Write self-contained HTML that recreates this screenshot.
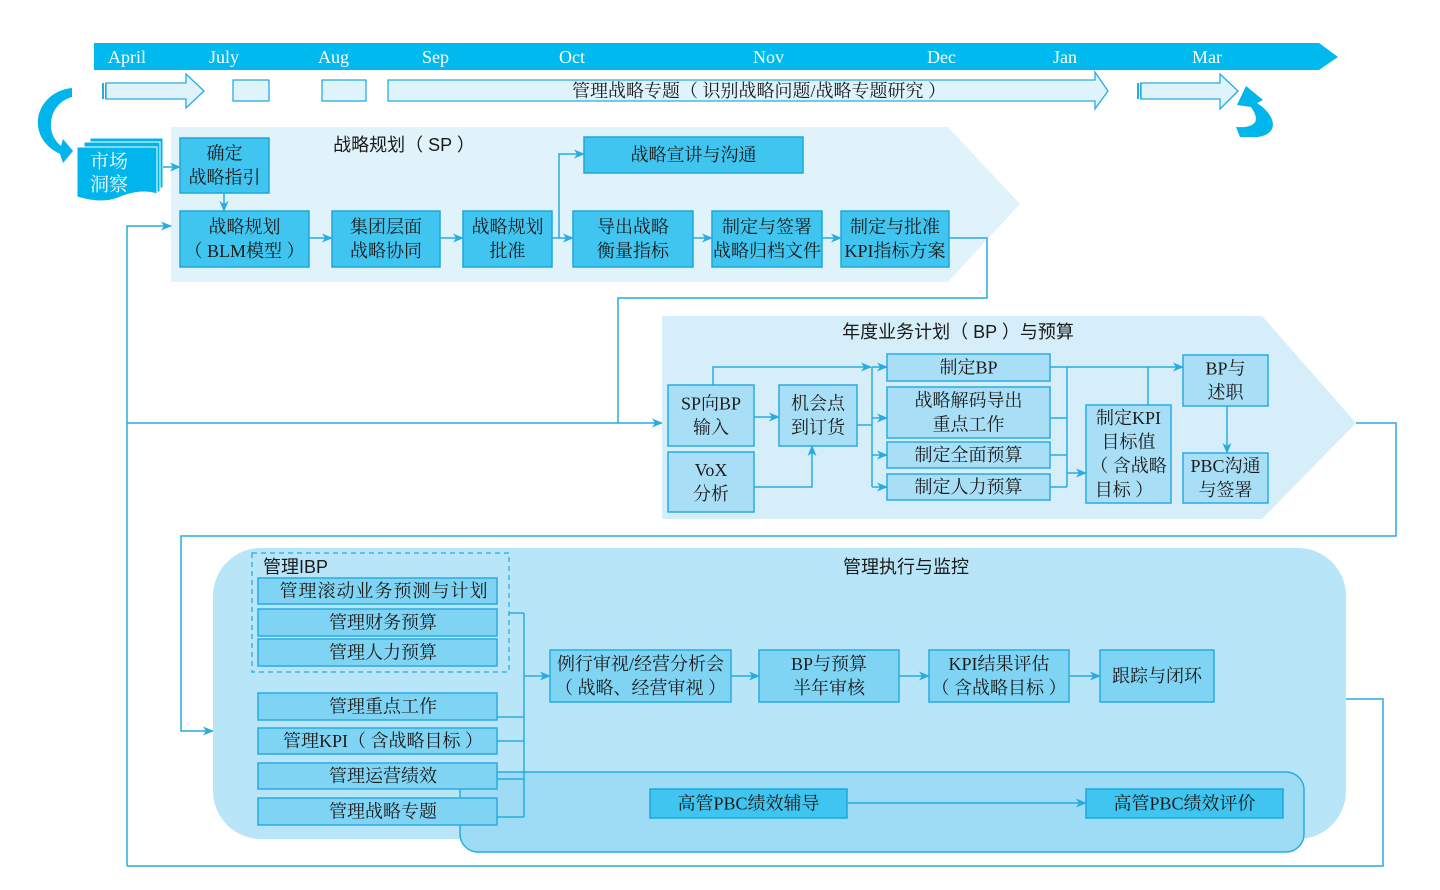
<!DOCTYPE html>
<html><head><meta charset="utf-8">
<style>
html,body{margin:0;padding:0;background:#fff;}
svg{display:block;}
.s{font-family:"Liberation Serif","Noto Serif CJK SC",serif;font-size:18px;fill:#1a1a1a;}
.h{font-family:"Liberation Sans","Noto Sans CJK SC",sans-serif;font-size:18px;fill:#1a1a1a;}
.m{font-family:"Liberation Serif","Noto Serif CJK SC",serif;font-size:18px;fill:#fff;}
.ln{fill:none;stroke:#29abe2;stroke-width:1.5;}
.b1{fill:#3fc5f0;stroke:#1ea6dc;stroke-width:1.5;}
.b2{fill:#a9dff6;stroke:#29abe2;stroke-width:1.5;}
.b3{fill:#7fd4f4;stroke:#29abe2;stroke-width:1.5;}
.ta{fill:#dff3fb;stroke:#29abe2;stroke-width:1.3;}
</style></head><body>
<svg width="1440" height="890" viewBox="0 0 1440 890" xmlns="http://www.w3.org/2000/svg">
<defs>
<marker id="a" markerWidth="11" markerHeight="9" refX="10" refY="4.5" orient="auto" markerUnits="userSpaceOnUse">
<path d="M0,0 L11,4.5 L0,9 L3,4.5 Z" fill="#29abe2"/>
</marker>
</defs>

<!-- Timeline -->
<polygon points="94,43 1319,43 1338,57 1319,70 94,70" fill="#00b9ef"/>
<g class="m" dominant-baseline="central">
<text x="108" y="57">April</text>
<text x="209" y="57">July</text>
<text x="318" y="57">Aug</text>
<text x="422" y="57">Sep</text>
<text x="559" y="57">Oct</text>
<text x="753" y="57">Nov</text>
<text x="927" y="57">Dec</text>
<text x="1053" y="57">Jan</text>
<text x="1192" y="57">Mar</text>
</g>

<!-- timeline arrows -->
<polygon class="ta" points="106,83 186,83 186,74 204,91 186,108 186,99 106,99"/>
<rect x="102" y="83" width="2" height="16" fill="#29abe2"/>
<rect x="105" y="83" width="1.5" height="16" fill="#29abe2"/>
<rect class="ta" x="233" y="80" width="36" height="21"/>
<rect class="ta" x="322" y="80" width="44" height="21"/>
<polygon class="ta" points="388,80 1095,80 1095,72 1108,91 1095,109 1095,101 388,101"/>
<text class="s" x="759" y="91" text-anchor="middle" dominant-baseline="central">管理战略专题（ 识别战略问题/战略专题研究 ）</text>
<polygon class="ta" points="1141,83 1220,83 1220,74 1238,91 1220,109 1220,99 1141,99"/>
<rect x="1137" y="83" width="2" height="16" fill="#29abe2"/>
<rect x="1140" y="83" width="1.5" height="16" fill="#29abe2"/>

<!-- curved arrows -->
<path d="M72,88 C50,90 36,108 38,126 C40,141 50,149 60,154 L63,163 L73,151 L63,139 L61,146 C55,141 50,133 51,123 C52,109 61,100 72,97 Z" fill="#00b4ec"/>
<path d="M1246,86 L1263,100 L1257,103 C1277,116 1279,134 1258,137 L1240,137 L1236,127 C1251,128 1263,124 1251,107 L1237,105 Z" fill="#00b4ec"/>

<!-- SP region -->
<polygon points="171,127 948,127 1020,204 948,282 171,282" fill="#e0f3fa"/>
<text class="h" x="404" y="145" text-anchor="middle" dominant-baseline="central">战略规划（ SP ）</text>

<!-- 市场洞察 -->
<path d="M90,138 H163 V188 H90 Z" fill="#00b4ec" stroke="#fff" stroke-width="1"/>
<path d="M84,142 H160 V192 H84 Z" fill="#00b4ec" stroke="#fff" stroke-width="1"/>
<path d="M77,147 H157 V194 C145,190 132,192 118,198 C105,203 90,201 77,197 Z" fill="#00b4ec" stroke="#fff" stroke-width="1"/>
<text class="m" x="109" y="162" text-anchor="middle" dominant-baseline="central" style="font-size:19px">市场</text>
<text class="m" x="109" y="185" text-anchor="middle" dominant-baseline="central" style="font-size:19px">洞察</text>

<!-- SP boxes -->
<rect class="b1" x="180" y="138" width="89" height="55"/>
<rect class="b1" x="180" y="211" width="129" height="56"/>
<rect class="b1" x="332" y="211" width="108" height="56"/>
<rect class="b1" x="463" y="211" width="89" height="56"/>
<rect class="b1" x="584" y="137" width="219" height="36"/>
<rect class="b1" x="573" y="211" width="120" height="56"/>
<rect class="b1" x="712" y="211" width="110" height="56"/>
<rect class="b1" x="841" y="211" width="108" height="56"/>
<g class="s" text-anchor="middle" dominant-baseline="central">
<text x="224.5" y="153.5">确定</text>
<text x="224.5" y="177.5">战略指引</text>
<text x="244.5" y="227">战略规划</text>
<text x="244.5" y="251">（ BLM模型 ）</text>
<text x="386" y="227">集团层面</text>
<text x="386" y="251">战略协同</text>
<text x="507.5" y="227">战略规划</text>
<text x="507.5" y="251">批准</text>
<text x="693.5" y="155">战略宣讲与沟通</text>
<text x="633" y="227">导出战略</text>
<text x="633" y="251">衡量指标</text>
<text x="767" y="227">制定与签署</text>
<text x="767" y="251">战略归档文件</text>
<text x="895" y="227">制定与批准</text>
<text x="895" y="251">KPI指标方案</text>
</g>

<!-- SP connectors -->
<line class="ln" x1="163" y1="167" x2="180" y2="167" marker-end="url(#a)"/>
<line class="ln" x1="224" y1="193" x2="224" y2="211" marker-end="url(#a)"/>
<line class="ln" x1="309" y1="238" x2="332" y2="238" marker-end="url(#a)"/>
<line class="ln" x1="440" y1="238" x2="463" y2="238" marker-end="url(#a)"/>
<line class="ln" x1="552" y1="238" x2="573" y2="238" marker-end="url(#a)"/>
<polyline class="ln" points="559,238 559,154 584,154" marker-end="url(#a)"/>
<line class="ln" x1="693" y1="238" x2="712" y2="238" marker-end="url(#a)"/>
<line class="ln" x1="822" y1="238" x2="841" y2="238" marker-end="url(#a)"/>
<polyline class="ln" points="949,238 987,238 987,298 618,298 618,423"/>
<polyline class="ln" points="127,866 127,226 171,226" marker-end="url(#a)"/>
<line class="ln" x1="127" y1="423" x2="662" y2="423" marker-end="url(#a)"/>

<!-- BP region -->
<polygon points="662,316 1262,316 1356,423 1262,519 662,519" fill="#d6eef9"/>
<text class="h" x="958" y="332" text-anchor="middle" dominant-baseline="central">年度业务计划（ BP ）与预算</text>

<rect class="b2" x="668" y="385" width="86" height="61"/>
<rect class="b2" x="668" y="452" width="86" height="60"/>
<rect class="b2" x="779" y="385" width="78" height="61"/>
<rect class="b2" x="887" y="354" width="163" height="27"/>
<rect class="b2" x="887" y="387" width="163" height="51"/>
<rect class="b2" x="887" y="442" width="163" height="26"/>
<rect class="b2" x="887" y="474" width="163" height="26"/>
<rect class="b2" x="1086" y="405" width="85" height="98"/>
<rect class="b2" x="1183" y="355" width="85" height="51"/>
<rect class="b2" x="1183" y="453" width="85" height="50"/>
<g class="s" text-anchor="middle" dominant-baseline="central">
<text x="711" y="403.5">SP向BP</text>
<text x="711" y="427.5">输入</text>
<text x="711" y="470">VoX</text>
<text x="711" y="494">分析</text>
<text x="818" y="403.5">机会点</text>
<text x="818" y="427.5">到订货</text>
<text x="968.5" y="367.5">制定BP</text>
<text x="968.5" y="400.5">战略解码导出</text>
<text x="968.5" y="424.5">重点工作</text>
<text x="968.5" y="455">制定全面预算</text>
<text x="968.5" y="487">制定人力预算</text>
<text x="1128.5" y="418">制定KPI</text>
<text x="1128.5" y="442">目标值</text>
<text x="1128.5" y="466">（ 含战略</text>
<text x="1124" y="490">目标 ）</text>
<text x="1225.5" y="368.5">BP与</text>
<text x="1225.5" y="392.5">述职</text>
<text x="1225.5" y="466">PBC沟通</text>
<text x="1225.5" y="490">与签署</text>
</g>

<!-- BP connectors -->
<line class="ln" x1="754" y1="417" x2="779" y2="417" marker-end="url(#a)"/>
<polyline class="ln" points="754,487 812,487 812,446" marker-end="url(#a)"/>
<polyline class="ln" points="713,385 713,367 871,367" marker-end="url(#a)"/>
<line class="ln" x1="857" y1="425" x2="872" y2="425"/>
<line class="ln" x1="872" y1="367" x2="872" y2="487"/>
<line class="ln" x1="872" y1="367" x2="887" y2="367" marker-end="url(#a)"/>
<line class="ln" x1="872" y1="418" x2="887" y2="418" marker-end="url(#a)"/>
<line class="ln" x1="872" y1="455" x2="887" y2="455" marker-end="url(#a)"/>
<line class="ln" x1="872" y1="487" x2="887" y2="487" marker-end="url(#a)"/>
<line class="ln" x1="1050" y1="367" x2="1183" y2="367" marker-end="url(#a)"/>
<line class="ln" x1="1050" y1="418" x2="1067" y2="418"/>
<line class="ln" x1="1050" y1="455" x2="1067" y2="455"/>
<line class="ln" x1="1050" y1="487" x2="1067" y2="487"/>
<line class="ln" x1="1067" y1="367" x2="1067" y2="487"/>
<line class="ln" x1="1067" y1="473" x2="1086" y2="473" marker-end="url(#a)"/>
<line class="ln" x1="1148" y1="405" x2="1148" y2="367"/>
<line class="ln" x1="1227" y1="406" x2="1227" y2="453" marker-end="url(#a)"/>
<polyline class="ln" points="1356,423 1396,423 1396,536 181,536 181,731 213,731" marker-end="url(#a)"/>

<!-- Bottom region -->
<rect x="213" y="548" width="1133" height="291" rx="48" ry="48" fill="#b9e5f8"/>
<rect x="460" y="772" width="844" height="80" rx="18" ry="18" fill="#9edcf5" stroke="#29abe2" stroke-width="1.5"/>
<text class="h" x="906" y="567" text-anchor="middle" dominant-baseline="central">管理执行与监控</text>

<rect x="252" y="553" width="257" height="119" fill="none" stroke="#29abe2" stroke-width="1.3" stroke-dasharray="5,4"/>
<text class="h" x="263" y="567" dominant-baseline="central">管理IBP</text>

<rect class="b3" x="258" y="578" width="239" height="26"/>
<rect class="b3" x="258" y="609" width="239" height="27"/>
<rect class="b3" x="258" y="639" width="239" height="27"/>
<rect class="b3" x="258" y="693" width="239" height="27"/>
<rect class="b3" x="258" y="728" width="239" height="26"/>
<rect class="b3" x="258" y="763" width="239" height="26"/>
<rect class="b3" x="258" y="798" width="239" height="27"/>
<rect class="b3" x="550" y="650" width="181" height="52"/>
<rect class="b3" x="759" y="650" width="140" height="52"/>
<rect class="b3" x="929" y="650" width="140" height="52"/>
<rect class="b3" x="1100" y="650" width="114" height="52"/>
<rect class="b1" x="650" y="789" width="197" height="29"/>
<rect class="b1" x="1086" y="789" width="197" height="29"/>

<g class="s" text-anchor="middle" dominant-baseline="central">
<text x="384" y="591" style="letter-spacing:1px">管理滚动业务预测与计划</text>
<text x="383" y="622.5">管理财务预算</text>
<text x="383" y="652.5">管理人力预算</text>
<text x="383" y="706.5">管理重点工作</text>
<text x="383" y="741">管理KPI（ 含战略目标 ）</text>
<text x="383" y="776">管理运营绩效</text>
<text x="383" y="811.5">管理战略专题</text>
<text x="640.5" y="664">例行审视/经营分析会</text>
<text x="640.5" y="688">（ 战略、经营审视 ）</text>
<text x="829" y="664">BP与预算</text>
<text x="829" y="688">半年审核</text>
<text x="999" y="664">KPI结果评估</text>
<text x="999" y="688">（ 含战略目标 ）</text>
<text x="1157" y="676">跟踪与闭环</text>
<text x="748.5" y="803.5">高管PBC绩效辅导</text>
<text x="1184.5" y="803.5">高管PBC绩效评价</text>
</g>

<!-- Bottom connectors -->
<line class="ln" x1="509" y1="613" x2="524" y2="613"/>
<line class="ln" x1="524" y1="613" x2="524" y2="817"/>
<line class="ln" x1="497" y1="717" x2="524" y2="717"/>
<line class="ln" x1="497" y1="741" x2="524" y2="741"/>
<line class="ln" x1="497" y1="779" x2="524" y2="779"/>
<line class="ln" x1="497" y1="817" x2="524" y2="817"/>
<line class="ln" x1="524" y1="676" x2="550" y2="676" marker-end="url(#a)"/>
<line class="ln" x1="731" y1="676" x2="759" y2="676" marker-end="url(#a)"/>
<line class="ln" x1="899" y1="676" x2="929" y2="676" marker-end="url(#a)"/>
<line class="ln" x1="1069" y1="676" x2="1100" y2="676" marker-end="url(#a)"/>
<line class="ln" x1="847" y1="803" x2="1086" y2="803" marker-end="url(#a)"/>
<polyline class="ln" points="1346,699 1383,699 1383,866 127,866"/>
</svg>
</body></html>
